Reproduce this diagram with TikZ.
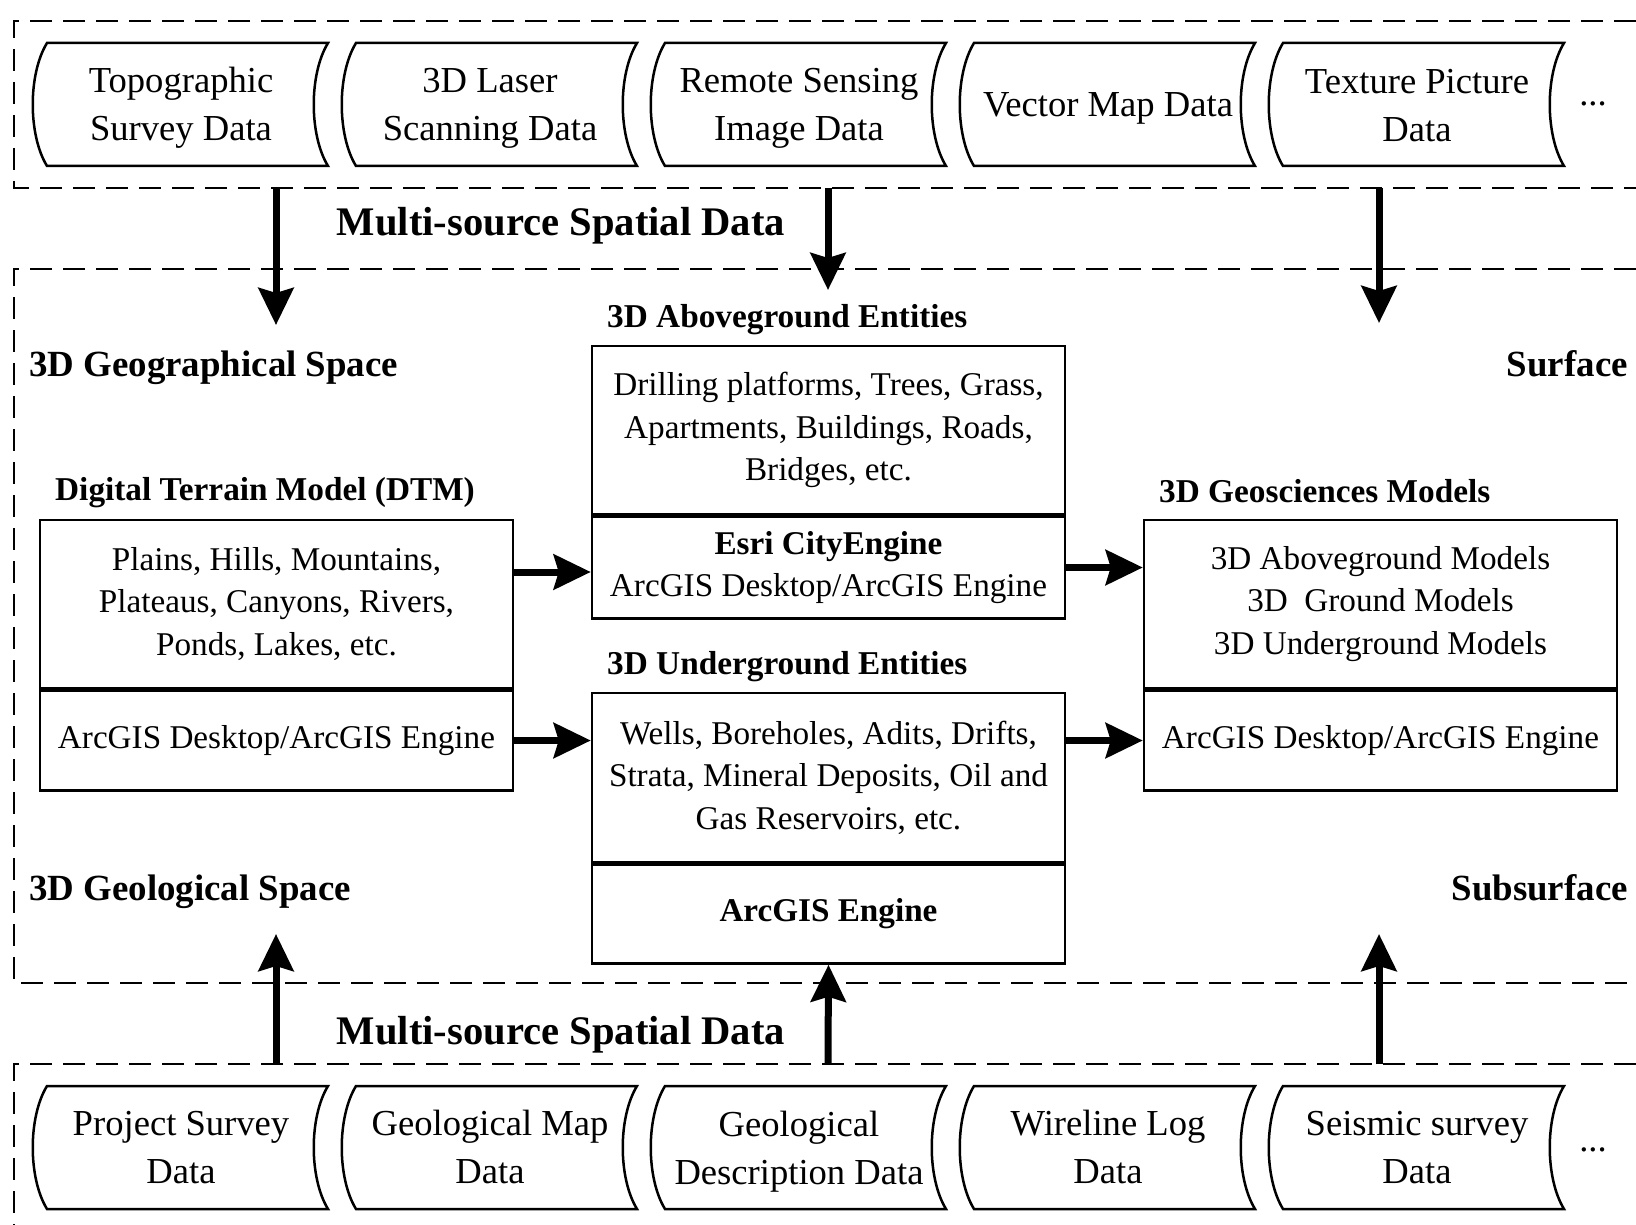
\documentclass[tikz,border=0pt]{standalone}
\usepackage{fontspec}
\setmainfont{Liberation Serif}
\usetikzlibrary{arrows.meta}
\tikzset{
srcline/.style={line width=2.5pt},
srctext/.style={align=center, inner sep=0pt, font=\fontsize{36.6}{48}\selectfont},
part/.style={draw, line width=2.5pt, minimum width=473pt, inner sep=0pt,
	align=center, font=\fontsize{33.2}{42.5}\selectfont},
boxtitle/.style={anchor=west, inner sep=0pt, font=\bfseries\fontsize{33.3}{40}\selectfont},
spacetitle/.style={inner sep=0pt, font=\bfseries\fontsize{36.9}{44}\selectfont},
grouptitle/.style={inner sep=0pt, font=\bfseries\fontsize{40.6}{48}\selectfont},
groupline/.style={line width=2.5pt, dash pattern=on 22pt off 11pt},
flow/.style={line width=7pt, -{Stealth[length=37pt, width=35pt, inset=5pt]}}
}
% outline of a data source: #1 centre x, #2 top y
\newcommand{\srcoutline}[2]{%
	\draw[srcline] ({#1-134},#2) -- ({#1+147},#2)
	.. controls ({#1+128},{#2+31}) and ({#1+128},{#2+92}) .. ({#1+147},{#2+123})
	-- ({#1-134},{#2+123})
	.. controls ({#1-153},{#2+92}) and ({#1-153},{#2+31}) .. cycle;}

\begin{document}
\begin{tikzpicture}[x=1pt, y=-1pt]
	\useasboundingbox (0,0) rectangle (1636,1225);
	% dashed groups
	\draw[groupline] (1636,21) -- (14,21) -- (14,188) -- (1636,188);
	\draw[groupline] (1636,269) -- (14,269) -- (14,983) -- (1636,983);
	\draw[groupline] (1636,1064) -- (14,1064) -- (14,1225);
	% data sources
	\foreach \n/\c/\y/\t in {tsd/181/108/{Topographic\\Survey Data}, lsd/490/108/{3D Laser\\Scanning Data},
		rsd/799/108/{Remote Sensing\\Image Data}, vmd/1108/108/{Vector Map Data}, tpd/1417/106/{Texture Picture\\Data}} {
		\srcoutline{\c}{43}
		\node[srctext] (\n) at (\c,\y) {\t};
	}
	\foreach \n/\c/\y/\t in {psd/181/1148/{Project Survey\\Data}, gmd/490/1147/{Geological Map\\Data},
		gdd/799/1152/{Geological\\Description Data}, wld/1108/1147/{Wireline Log\\Data}, ssd/1417/1148/{Seismic survey\\Data}} {
		\srcoutline{\c}{1086}
		\node[srctext] (\n) at (\c,\y) {\t};
	}
	\node[srctext] (moretop) at (1593,104) {...};
	\node[srctext] (morebot) at (1593,1150) {...};
	\node[grouptitle] (msdtop) at (561,226) {Multi-source Spatial Data};
	\node[grouptitle] (msdbot) at (561,1035) {Multi-source Spatial Data};
	\node[spacetitle, anchor=base west] (geog) at (29,376) {3D Geographical Space};
	\node[spacetitle, anchor=base east] (surf) at (1628,376) {Surface};
	\node[spacetitle, anchor=base west] (geol) at (29,900) {3D Geological Space};
	\node[spacetitle, anchor=base east] (subs) at (1628,900) {Subsurface};
	% model boxes
	\node[part, minimum height=168pt] (dtm) at (276.5,604)
		{Plains, Hills, Mountains,\\Plateaus, Canyons, Rivers,\\Ponds, Lakes, etc.};
	\node[part, minimum height=100pt, anchor=north] (dtmsw) at (dtm.south) {ArcGIS Desktop/ArcGIS Engine};
	\node[boxtitle] (dtmt) at (55,493) {Digital Terrain Model (DTM)};
	\node[part, minimum height=168pt] (above) at (828.5,430)
		{Drilling platforms, Trees, Grass,\\Apartments, Buildings, Roads,\\Bridges, etc.};
	\node[part, minimum height=102pt, anchor=north] (abovesw) at (above.south)
		{\textbf{Esri CityEngine}\\ArcGIS Desktop/ArcGIS Engine};
	\node[boxtitle] (abovet) at (607,320) {3D Aboveground Entities};
	\node[part, minimum height=169pt] (under) at (828.5,777.5)
		{Wells, Boreholes, Adits, Drifts,\\Strata, Mineral Deposits, Oil and\\Gas Reservoirs, etc.};
	\node[part, minimum height=99pt, anchor=north] (undersw) at (under.south) {\textbf{ArcGIS Engine}};
	\node[boxtitle] (undert) at (607,667) {3D Underground Entities};
	\node[part, minimum height=168pt] (geo) at (1380.5,604)
		{3D Aboveground Models\\3D\ \ Ground Models\\3D Underground Models};
	\node[part, minimum height=100pt, anchor=north] (geosw) at (geo.south) {ArcGIS Desktop/ArcGIS Engine};
	\node[boxtitle] (geot) at (1159,491) {3D Geosciences Models};
	% flows
	\coordinate (outA) at (276,188); \coordinate (inA) at (276,325);
	\coordinate (outB) at (828,188); \coordinate (inB) at (828,290);
	\coordinate (outC) at (1379,188); \coordinate (inC) at (1379,323);
	\coordinate (upA) at (276,1064); \coordinate (topA) at (276,934);
	\coordinate (upB) at (828,1064);
	\coordinate (upC) at (1379,1064); \coordinate (topC) at (1379,934);
	\draw[flow] (outA) -- (inA);
	\draw[flow] (outB) -- (inB);
	\draw[flow] (outC) -- (inC);
	\draw[flow] (upA) -- (topA);
	\draw[flow] (upB) -- (undersw.south);
	\draw[flow] (upC) -- (topC);
	\draw[flow] (dtm.east |- 0,572) -- (abovesw.west |- 0,572);
	\draw[flow] (dtmsw.east) -- (under.west |- dtmsw.east);
	\draw[flow] (abovesw.east) -- (geo.west |- abovesw.east);
	\draw[flow] (under.east |- geosw.west) -- (geosw.west);
\end{tikzpicture}
\end{document}
